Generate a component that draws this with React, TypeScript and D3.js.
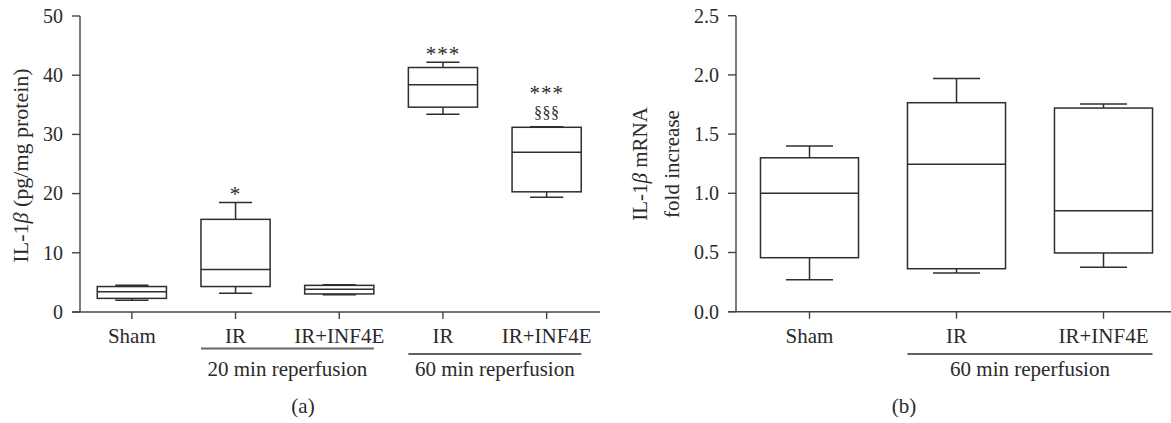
import React from "react";
import * as d3 from "d3";

// Panel (a): IL-1β protein (pg/mg protein)
const catsA = ["Sham", "IR20", "IRINF20", "IR60", "IRINF60"];
const labelsA = ["Sham", "IR", "IR+INF4E", "IR", "IR+INF4E"];
const minA = [2.0, 3.15, 2.9, 33.4, 19.4];
const q1A = [2.3, 4.3, 3.05, 34.6, 20.3];
const medA = [3.4, 7.2, 3.85, 38.4, 27.0];
const q3A = [4.3, 15.65, 4.5, 41.3, 31.2];
const maxA = [4.5, 18.5, 4.6, 42.2, 31.3];
const ticksA = [0, 10, 20, 30, 40, 50];
const annotA = ["", "*", "", "***", "***"];
const annotA2 = ["", "", "", "", "§§§"];
const groupsA = [
  { label: "20 min reperfusion", from: "IR20", to: "IRINF20" },
  { label: "60 min reperfusion", from: "IR60", to: "IRINF60" },
];

// Panel (b): IL-1β mRNA fold increase
const catsB = ["Sham", "IR60", "IRINF60"];
const labelsB = ["Sham", "IR", "IR+INF4E"];
const minB = [0.27, 0.327, 0.375];
const q1B = [0.456, 0.363, 0.496];
const medB = [1.0, 1.245, 0.853];
const q3B = [1.3, 1.765, 1.72];
const maxB = [1.4, 1.97, 1.754];
const ticksB = [0, 0.5, 1.0, 1.5, 2.0, 2.5];
const groupsB = [{ label: "60 min reperfusion", from: "IR60", to: "IRINF60" }];

const FONT = "'Liberation Serif', 'Times New Roman', serif";
const TXT = "#2a2a2a";
const LINE = "#2e2e2e";
const AXIS = "#444";
const FS_TICK = 20;
const FS = 21;

type Panel = {
  cats: string[];
  labels: string[];
  mins: number[];
  q1: number[];
  med: number[];
  q3: number[];
  max: number[];
  ticks: number[];
  fmt: (v: number) => string;
  x0: number;
  x1: number;
  axisEnd: number;
  yTop: number;
  yBot: number;
  domainMax: number;
};

function BoxPanel({ p }: { p: Panel }) {
  const x = d3.scalePoint<string>().domain(p.cats).range([p.x0, p.x1]).padding(0.5);
  const y = d3.scaleLinear().domain([0, p.domainMax]).range([p.yBot, p.yTop]);
  const step = x.step();
  const bw = step * 0.667;
  const cw = bw * 0.48;
  return (
    <g>
      {/* y axis */}
      <line x1={p.x0} x2={p.x0} y1={y(p.domainMax)} y2={y(0)} stroke={AXIS} strokeWidth={1.4} />
      {p.ticks.map((t) => (
        <g key={t}>
          <line x1={p.x0 - 8} x2={p.x0} y1={y(t)} y2={y(t)} stroke={AXIS} strokeWidth={1.4} />
          <text x={p.x0 - 17} y={y(t)} dy="0.34em" textAnchor="end" fontSize={FS_TICK} fill={TXT}>
            {p.fmt(t)}
          </text>
        </g>
      ))}
      {/* x axis */}
      <line x1={p.x0 - 8} x2={p.axisEnd} y1={y(0)} y2={y(0)} stroke={AXIS} strokeWidth={1.4} />
      {p.cats.map((c, i) => {
        const cx = x(c)!;
        return (
          <g key={c}>
            <line x1={cx} x2={cx} y1={y(0)} y2={y(0) + 7} stroke={AXIS} strokeWidth={1.4} />
            <text x={cx} y={y(0) + 31} textAnchor="middle" fontSize={FS} fill={TXT}>
              {p.labels[i]}
            </text>
            {/* whiskers */}
            <line x1={cx} x2={cx} y1={y(p.max[i])} y2={y(p.q3[i])} stroke={LINE} strokeWidth={1.5} />
            <line x1={cx} x2={cx} y1={y(p.q1[i])} y2={y(p.mins[i])} stroke={LINE} strokeWidth={1.5} />
            <line x1={cx - cw / 2} x2={cx + cw / 2} y1={y(p.max[i])} y2={y(p.max[i])} stroke={LINE} strokeWidth={1.5} />
            <line x1={cx - cw / 2} x2={cx + cw / 2} y1={y(p.mins[i])} y2={y(p.mins[i])} stroke={LINE} strokeWidth={1.5} />
            <rect
              x={cx - bw / 2}
              y={y(p.q3[i])}
              width={bw}
              height={y(p.q1[i]) - y(p.q3[i])}
              fill="white"
              stroke={LINE}
              strokeWidth={1.5}
            />
            <line x1={cx - bw / 2} x2={cx + bw / 2} y1={y(p.med[i])} y2={y(p.med[i])} stroke={LINE} strokeWidth={1.5} />
          </g>
        );
      })}
    </g>
  );
}

export default function App() {
  const pa: Panel = {
    cats: catsA, labels: labelsA, mins: minA, q1: q1A, med: medA, q3: q3A, max: maxA,
    ticks: ticksA, fmt: (v) => String(v), x0: 80, x1: 598.5, axisEnd: 600,
    yTop: 16, yBot: 312, domainMax: 50,
  };
  const pb: Panel = {
    cats: catsB, labels: labelsB, mins: minB, q1: q1B, med: medB, q3: q3B, max: maxB,
    ticks: ticksB, fmt: (v) => v.toFixed(1), x0: 736, x1: 1177, axisEnd: 1171,
    yTop: 15.7, yBot: 311.7, domainMax: 2.5,
  };
  const xa = d3.scalePoint<string>().domain(catsA).range([pa.x0, pa.x1]).padding(0.5);
  const ya = d3.scaleLinear().domain([0, 50]).range([pa.yBot, pa.yTop]);
  const xb = d3.scalePoint<string>().domain(catsB).range([pb.x0, pb.x1]).padding(0.5);
  const halfA = xa.step() * 0.667 / 2;
  const halfB = xb.step() * 0.667 / 2;
  const underlineYA = [348.5, 354];

  return (
    <svg
      width={1171}
      height={423}
      style={{ position: "absolute", left: 0, top: 0, background: "white" }}
      fontFamily={FONT}
    >
      <rect width={1171} height={423} fill="white" />
      <BoxPanel p={pa} />
      <BoxPanel p={pb} />

      {/* significance marks (a) */}
      {catsA.map((c, i) => {
        if (!annotA[i]) return null;
        const cx = xa(c)!;
        const top = ya(maxA[i]);
        if (annotA2[i]) {
          return (
            <g key={"ann" + c}>
              <text x={cx} y={top - 27} textAnchor="middle" fontSize={FS} letterSpacing={1} fill={TXT}>
                {annotA[i]}
              </text>
              <text x={cx} y={top - 8.5} textAnchor="middle" fontSize={16} letterSpacing={0.5} fill={TXT}>
                {annotA2[i]}
              </text>
            </g>
          );
        }
        return (
          <text key={"ann" + c} x={cx} y={top - 1.5} textAnchor="middle" fontSize={FS} letterSpacing={1} fill={TXT}>
            {annotA[i]}
          </text>
        );
      })}

      {/* group underlines (a) */}
      {groupsA.map((g, i) => {
        const l = xa(g.from)! - halfA;
        const r = xa(g.to)! + halfA;
        return (
          <g key={g.label}>
            <line x1={l} x2={r} y1={underlineYA[i]} y2={underlineYA[i]} stroke={i === 0 ? "#666" : LINE} strokeWidth={i === 0 ? 2.2 : 1.4} />
            <text x={(l + r) / 2} y={376} textAnchor="middle" fontSize={FS} fill={TXT}>
              {g.label}
            </text>
          </g>
        );
      })}
      {groupsB.map((g) => {
        const l = xb(g.from)! - halfB;
        const r = xb(g.to)! + halfB;
        return (
          <g key={g.label}>
            <line x1={l} x2={r} y1={354} y2={354} stroke={LINE} strokeWidth={1.4} />
            <text x={(l + r) / 2} y={376} textAnchor="middle" fontSize={FS} fill={TXT}>
              {g.label}
            </text>
          </g>
        );
      })}

      {/* y-axis titles */}
      <text transform="translate(27.5,165.5) rotate(-90)" textAnchor="middle" fontSize={22} fill={TXT}>
        IL-1<tspan fontStyle="italic">β</tspan> (pg/mg protein)
      </text>
      <text transform="translate(647,164) rotate(-90)" textAnchor="middle" fontSize={FS} fill={TXT}>
        IL-1<tspan fontStyle="italic">β</tspan> mRNA
      </text>
      <text transform="translate(679,164) rotate(-90)" textAnchor="middle" fontSize={FS} fill={TXT}>
        fold increase
      </text>

      {/* panel labels */}
      <text x={303} y={413} textAnchor="middle" fontSize={FS} fill={TXT}>(a)</text>
      <text x={904} y={413} textAnchor="middle" fontSize={FS} fill={TXT}>(b)</text>
    </svg>
  );
}
